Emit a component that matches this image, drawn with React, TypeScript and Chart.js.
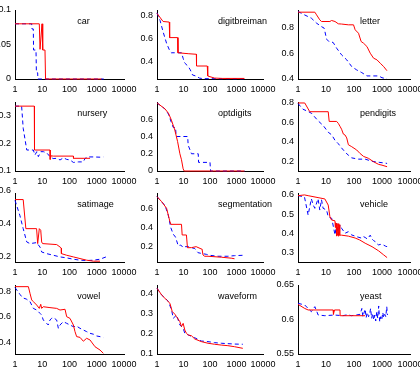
import { useEffect, useRef } from "react";
import { Chart, registerables } from "chart.js";

Chart.register(...registerables);

type Pt = [number, number];

// shared x axis (number of models, log scale)
const xTicks = [1, 10, 100, 1000, 10000];

// car
const carRed: Pt[] = [[1, 0.08], [7.8, 0.08], [8.3, 0.043], [9.8, 0.08], [10.3, 0.08], [10.5, 0.042], [12.6, 0.042], [13.2, 0], [1500, 0]];
const carBlue: Pt[] = [[1, 0.08], [4.1, 0.08], [4.2, 0.0725], [4.7, 0.0725], [4.8, 0.042], [5.9, 0.042], [6.1, 0.009], [6.8, 0.009], [6.9, 0], [1800, 0]];
const carTicks = [0, 0.05, 0.1];

// digitbreiman
const digitRed: Pt[] = [[1, 0.82], [1.7, 0.75], [2.9, 0.745], [3.0, 0.61], [6.0, 0.61], [6.2, 0.478], [15, 0.47], [30.6, 0.465], [31, 0.363], [79, 0.363], [82, 0.276], [150, 0.258], [300, 0.255], [2000, 0.255]];
const digitBlue: Pt[] = [[1, 0.825], [1.3, 0.76], [1.7, 0.66], [2.3, 0.56], [3.1, 0.49], [3.5, 0.478], [8.4, 0.478], [9.7, 0.43], [11, 0.39], [15, 0.36], [18, 0.33], [22, 0.285], [30, 0.275], [40, 0.258], [55, 0.253], [2000, 0.252]];
const digitTicks = [0.4, 0.6, 0.8];

// letter
const letterRed: Pt[] = [[1, 0.923], [4.0, 0.923], [4.6, 0.902], [6.0, 0.863], [6.9, 0.85], [13.8, 0.85], [15.8, 0.858], [21, 0.85], [27.5, 0.832], [36, 0.83], [63, 0.824], [96, 0.824], [110, 0.785], [145, 0.758], [180, 0.693], [220, 0.68], [290, 0.654], [380, 0.602], [500, 0.563], [660, 0.55], [870, 0.523], [1150, 0.497], [1500, 0.465]];
const letterBlue: Pt[] = [[1, 0.928], [1.7, 0.902], [3.0, 0.876], [4.6, 0.837], [6.9, 0.81], [8.6, 0.798], [10.5, 0.712], [12.7, 0.693], [18, 0.686], [24, 0.641], [36, 0.589], [55, 0.55], [83, 0.497], [125, 0.471], [190, 0.45], [290, 0.424], [440, 0.424], [760, 0.424], [1000, 0.41], [1500, 0.401]];
const letterTicks = [0.4, 0.6, 0.8];

// nursery
const nurseryRed: Pt[] = [[1, 0.335], [5.1, 0.335], [5.2, 0.176], [19.3, 0.176], [19.6, 0.142], [21, 0.155], [25.5, 0.154], [139, 0.154], [140, 0.146], [567, 0.146]];
const nurseryBlue: Pt[] = [[1, 0.335], [1.75, 0.335], [2.0, 0.255], [2.7, 0.176], [4.7, 0.176], [5.4, 0.158], [6.3, 0.17], [7.2, 0.152], [8.8, 0.17], [11, 0.17], [14.5, 0.166], [19.3, 0.152], [25, 0.145], [34, 0.146], [45, 0.14], [60, 0.148], [79, 0.142], [105, 0.14], [139, 0.131], [210, 0.133], [320, 0.133], [370, 0.145], [450, 0.151], [750, 0.151], [1320, 0.15], [1750, 0.151]];
const nurseryTicks = [0.1, 0.2, 0.3];

// optdigits
const optRed: Pt[] = [[1, 0.79], [2, 0.72], [2.7, 0.67], [3.5, 0.59], [4.7, 0.475], [6, 0.34], [7.3, 0.2], [8.4, 0.13], [9.7, 0.025], [10.6, 0], [2000, 0]];
const optBlue: Pt[] = [[1, 0.79], [2, 0.72], [2.7, 0.66], [3.6, 0.55], [4.1, 0.505], [5.0, 0.505], [5.3, 0.4], [14.4, 0.4], [15, 0.3], [20, 0.2], [36, 0.2], [37, 0.1], [100, 0.1], [105, 0], [2000, 0]];
const optTicks = [0, 0.2, 0.4, 0.6];

// pendigits
const penRed: Pt[] = [[1, 0.8], [1.74, 0.8], [2.63, 0.71], [12, 0.71], [13, 0.61], [24, 0.61], [27.5, 0.59], [31.6, 0.56], [36, 0.53], [41.7, 0.48], [48, 0.47], [55, 0.44], [63, 0.37], [83, 0.35], [125, 0.316], [165, 0.28], [220, 0.25], [331, 0.23], [500, 0.195], [760, 0.168], [1000, 0.16], [1520, 0.144]];
const penBlue: Pt[] = [[1, 0.795], [1.5, 0.736], [2.0, 0.72], [3.0, 0.695], [5.2, 0.617], [8, 0.567], [12, 0.499], [16, 0.472], [21, 0.415], [27.5, 0.381], [36, 0.337], [48, 0.296], [63, 0.262], [83, 0.235], [145, 0.222], [250, 0.222], [440, 0.2], [760, 0.19], [1520, 0.178]];
const penTicks = [0.2, 0.4, 0.6, 0.8];

// satimage
const satRed: Pt[] = [[1, 0.545], [2.0, 0.545], [2.5, 0.368], [6.2, 0.368], [6.8, 0.277], [7.8, 0.368], [8.8, 0.358], [9.5, 0.287], [10.3, 0.277], [34, 0.271], [45, 0.256], [50, 0.25], [50.5, 0.216], [79, 0.206], [139, 0.196], [243, 0.186], [430, 0.176], [750, 0.17], [1320, 0.17]];
const satBlue: Pt[] = [[1, 0.54], [1.5, 0.45], [2.0, 0.368], [2.7, 0.287], [3.55, 0.277], [6.2, 0.283], [8.3, 0.256], [9.5, 0.226], [14.5, 0.216], [25.5, 0.206], [45, 0.196], [79, 0.19], [139, 0.182], [243, 0.176], [430, 0.174], [750, 0.176], [1320, 0.182], [2200, 0.196]];
const satTicks = [0.2, 0.4, 0.6];

// segmentation
const segRed: Pt[] = [[1, 0.722], [1.5, 0.67], [2.3, 0.6], [3.07, 0.461], [3.35, 0.433], [8.4, 0.433], [8.9, 0.322], [12.9, 0.322], [14.1, 0.189], [20, 0.19], [30, 0.2], [47, 0.176], [50, 0.176], [54.5, 0.113], [63, 0.1], [84, 0.1], [266, 0.09], [631, 0.08], [841, 0.074]];
const segBlue: Pt[] = [[1, 0.722], [2, 0.63], [2.66, 0.53], [3.3, 0.4], [4.1, 0.33], [5, 0.3], [6.3, 0.21], [7.9, 0.217], [9.7, 0.19], [11.2, 0.2], [15, 0.2], [26.6, 0.18], [35.5, 0.137], [47, 0.13], [73, 0.12], [97, 0.11], [200, 0.1], [473, 0.1], [841, 0.106], [1730, 0.11]];
const segTicks = [0.2, 0.4, 0.6];

// vehicle
const vehRed: Pt[] = [[1, 0.596], [1.7, 0.6], [2.3, 0.596], [5.2, 0.586], [9.1, 0.579], [12, 0.547], [13.8, 0.486], [15.8, 0.469], [20.9, 0.465], [21.5, 0.43], [22, 0.455], [23, 0.452], [23.5, 0.385], [24.5, 0.452], [25.5, 0.39], [26.5, 0.45], [27.5, 0.385], [28.5, 0.45], [29.5, 0.39], [30.5, 0.445], [31.6, 0.39], [36, 0.39], [63, 0.385], [110, 0.375], [160, 0.365], [250, 0.348], [440, 0.33], [760, 0.308], [1150, 0.287], [1520, 0.273]];
const vehBlue: Pt[] = [[1, 0.596], [1.7, 0.59], [2.3, 0.495], [3.0, 0.58], [3.5, 0.547], [4.0, 0.53], [5.2, 0.58], [6.0, 0.521], [6.9, 0.575], [7.9, 0.53], [10.5, 0.521], [12, 0.486], [16, 0.478], [21, 0.391], [24, 0.452], [27.5, 0.391], [31.6, 0.443], [36, 0.426], [48, 0.4], [63, 0.408], [83, 0.391], [125, 0.382], [191, 0.374], [220, 0.382], [250, 0.378], [300, 0.37], [331, 0.378], [380, 0.39], [437, 0.37], [500, 0.362], [575, 0.356], [660, 0.345], [760, 0.339], [870, 0.342], [1000, 0.336], [1150, 0.338], [1320, 0.333], [1500, 0.33], [1640, 0.318]];
const vehTicks = [0.3, 0.4, 0.5, 0.6];

// vowel
const vowelRed: Pt[] = [[1, 0.837], [3.1, 0.837], [3.55, 0.785], [4.1, 0.733], [4.7, 0.72], [6.25, 0.693], [7.8, 0.667], [8.8, 0.699], [9.5, 0.667], [10.9, 0.68], [19.2, 0.673], [33.8, 0.667], [44.8, 0.654], [68.5, 0.66], [78.8, 0.602], [104, 0.589], [139, 0.537], [159, 0.485], [183, 0.446], [243, 0.44], [322, 0.41], [426, 0.433], [565, 0.42], [862, 0.367], [1320, 0.341], [1750, 0.315]];
const vowelBlue: Pt[] = [[1, 0.83], [1.53, 0.776], [1.9, 0.75], [2.6, 0.74], [3.55, 0.72], [4.7, 0.667], [6.25, 0.654], [8.3, 0.628], [9.5, 0.615], [10.9, 0.576], [14.5, 0.55], [16.6, 0.537], [19.2, 0.576], [22, 0.589], [25.5, 0.595], [33.8, 0.576], [39, 0.511], [44.8, 0.537], [59.5, 0.563], [78.8, 0.55], [104, 0.537], [139, 0.524], [183, 0.528], [243, 0.511], [322, 0.498], [426, 0.485], [565, 0.472], [750, 0.465], [995, 0.451], [1320, 0.446], [1750, 0.438]];
const vowelTicks = [0.4, 0.6, 0.8];

// waveform
const waveRed: Pt[] = [[1, 0.424], [1.5, 0.391], [2.3, 0.366], [3.07, 0.35], [3.76, 0.309], [4.73, 0.296], [5.46, 0.284], [7.3, 0.259], [8.4, 0.235], [9.7, 0.251], [11.2, 0.218], [12.9, 0.202], [15, 0.194], [20, 0.19], [26.6, 0.174], [47, 0.161], [84, 0.153], [150, 0.148], [266, 0.144], [473, 0.141], [841, 0.136], [1730, 0.128]];
const waveBlue: Pt[] = [[1, 0.424], [1.5, 0.391], [2.66, 0.36], [3.55, 0.317], [4.1, 0.276], [5.46, 0.292], [7.3, 0.243], [9.7, 0.227], [11.2, 0.202], [15, 0.194], [26.6, 0.18], [47, 0.164], [84, 0.161], [150, 0.156], [266, 0.153], [473, 0.151], [841, 0.149], [1730, 0.148]];
const waveTicks = [0.1, 0.2, 0.3, 0.4];

// yeast
const yeastRed: Pt[] = [[1, 0.622], [1.74, 0.616], [2.3, 0.6138], [18, 0.6138], [18.5, 0.6075], [19.5, 0.612], [20, 0.6138], [31.6, 0.6138], [32, 0.6055], [250, 0.6055]];
const yeastBlue: Pt[] = [[1, 0.6235], [1.74, 0.621], [2.3, 0.616], [3.0, 0.6113], [4.0, 0.6186], [5.25, 0.6065], [9.1, 0.6055], [20, 0.6065], [40, 0.6055], [60, 0.607], [80, 0.6055], [120, 0.6065], [166, 0.6075], [191, 0.616], [207, 0.604], [225, 0.609], [250, 0.615], [272, 0.6027], [296, 0.6102], [331, 0.604], [361, 0.6075], [392, 0.616], [427, 0.6017], [464, 0.609], [505, 0.5993], [549, 0.6065], [596, 0.5978], [648, 0.6113], [705, 0.6017], [762, 0.6196], [828, 0.5968], [900, 0.604], [980, 0.5993], [1065, 0.6102], [1155, 0.6027], [1256, 0.6075], [1365, 0.604], [1480, 0.6186], [1565, 0.6065]];
const yeastTicks = [0.55, 0.6, 0.65];

type PanelDef = { name: string; red: Pt[]; blue: Pt[]; yMin: number; yMax: number; yTicks: number[] };

const panels: PanelDef[] = [
  { name: "car", red: carRed, blue: carBlue, yMin: 0, yMax: 0.1, yTicks: carTicks },
  { name: "digitbreiman", red: digitRed, blue: digitBlue, yMin: 0.25, yMax: 0.85, yTicks: digitTicks },
  { name: "letter", red: letterRed, blue: letterBlue, yMin: 0.4, yMax: 0.94, yTicks: letterTicks },
  { name: "nursery", red: nurseryRed, blue: nurseryBlue, yMin: 0.1, yMax: 0.35, yTicks: nurseryTicks },
  { name: "optdigits", red: optRed, blue: optBlue, yMin: 0, yMax: 0.8, yTicks: optTicks },
  { name: "pendigits", red: penRed, blue: penBlue, yMin: 0.1, yMax: 0.81, yTicks: penTicks },
  { name: "satimage", red: satRed, blue: satBlue, yMin: 0.165, yMax: 0.585, yTicks: satTicks },
  { name: "segmentation", red: segRed, blue: segBlue, yMin: 0.04, yMax: 0.76, yTicks: segTicks },
  { name: "vehicle", red: vehRed, blue: vehBlue, yMin: 0.25, yMax: 0.61, yTicks: vehTicks },
  { name: "vowel", red: vowelRed, blue: vowelBlue, yMin: 0.31, yMax: 0.85, yTicks: vowelTicks },
  { name: "waveform", red: waveRed, blue: waveBlue, yMin: 0.1, yMax: 0.44, yTicks: waveTicks },
  { name: "yeast", red: yeastRed, blue: yeastBlue, yMin: 0.55, yMax: 0.65, yTicks: yeastTicks },
];

// grid geometry of the 4 x 3 subplot layout (plot-area boxes, CSS px)
const COL_LEFT = [15, 157, 298];
const COL_WIDTH = [109, 106, 112];
const ROW_TOP = [10, 102, 193, 285];
const ROW_HEIGHT = 69;
const NAME_FX = [0.57, 0.575, 0.553];

const PAD_L = 40;
const PAD_T = 8;
const PAD_R = 24;
const PAD_B = 17;

const FONT_FAMILY = "'Liberation Sans', Arial, Helvetica, sans-serif";
const FONT = { family: FONT_FAMILY, size: 9 };

const nameLabel = {
  id: "panelName",
  afterDatasetsDraw(chart: any, _args: any, opts: any) {
    const { ctx, chartArea } = chart;
    ctx.save();
    ctx.font = `9px ${FONT_FAMILY}`;
    ctx.fillStyle = "#000";
    ctx.textAlign = "left";
    ctx.textBaseline = "middle";
    ctx.fillText(opts.text, chartArea.left + opts.fx * (chartArea.right - chartArea.left), chartArea.top + 11.5);
    ctx.restore();
  },
};

function Panel({ def, col, row }: { def: PanelDef; col: number; row: number }) {
  const ref = useRef<HTMLCanvasElement>(null);
  const w = COL_WIDTH[col] + PAD_L + PAD_R;
  const h = ROW_HEIGHT + PAD_T + PAD_B;

  useEffect(() => {
    const toXY = (pts: Pt[]) => pts.map(([x, y]) => ({ x, y }));
    const chart = new Chart(ref.current as HTMLCanvasElement, {
      type: "line",
      data: {
        datasets: [
          {
            data: toXY(def.red),
            borderColor: "rgb(255,0,0)",
            borderWidth: 1,
            pointRadius: 0,
            tension: 0,
            fill: false,
            clip: 3,
          },
          {
            data: toXY(def.blue),
            borderColor: "rgb(0,0,255)",
            borderWidth: 1,
            borderDash: [4, 3],
            pointRadius: 0,
            tension: 0,
            fill: false,
            clip: 3,
          },
        ],
      },
      options: {
        animation: false,
        responsive: false,
        devicePixelRatio: 1,
        layout: { padding: { top: PAD_T, right: PAD_R, left: 0, bottom: 0 } },
        plugins: {
          legend: { display: false },
          tooltip: { enabled: false },
          panelName: { text: def.name, fx: NAME_FX[col] },
        } as any,
        scales: {
          x: {
            type: "logarithmic",
            min: 1,
            max: 10000,
            grid: { display: false, drawTicks: false, tickLength: 0 },
            border: { display: true, color: "#000", width: 1 },
            ticks: {
              autoSkip: false,
              maxRotation: 0,
              padding: 5,
              color: "#000",
              font: FONT,
              callback: (v: any) => String(v),
            },
            afterBuildTicks: (s: any) => {
              s.ticks = xTicks.map((v) => ({ value: v }));
            },
            afterFit: (s: any) => {
              s.height = PAD_B;
              s.paddingLeft = 0;
              s.paddingRight = 0;
            },
          },
          y: {
            type: "linear",
            min: def.yMin,
            max: def.yMax,
            grid: { display: false, drawTicks: false, tickLength: 0 },
            border: { display: true, color: "#000", width: 1 },
            ticks: {
              autoSkip: false,
              padding: 4,
              color: "#000",
              font: FONT,
              callback: (v: any) => String(v),
            },
            afterBuildTicks: (s: any) => {
              s.ticks = def.yTicks.map((v) => ({ value: v }));
            },
            afterFit: (s: any) => {
              s.width = PAD_L;
              s.paddingTop = 0;
              s.paddingBottom = 0;
            },
          },
        },
      },
      plugins: [nameLabel],
    });
    return () => chart.destroy();
  }, [def, col]);

  return (
    <canvas
      ref={ref}
      width={w}
      height={h}
      style={{
        position: "absolute",
        left: COL_LEFT[col] - PAD_L,
        top: ROW_TOP[row] - PAD_T,
        width: w,
        height: h,
      }}
    />
  );
}

export default function App() {
  return (
    <div
      style={{
        position: "fixed",
        left: 0,
        top: 0,
        width: 420,
        height: 371,
        overflow: "hidden",
        background: "#fff",
      }}
    >
      {panels.map((def, i) => (
        <Panel key={def.name} def={def} col={i % 3} row={Math.floor(i / 3)} />
      ))}
    </div>
  );
}
